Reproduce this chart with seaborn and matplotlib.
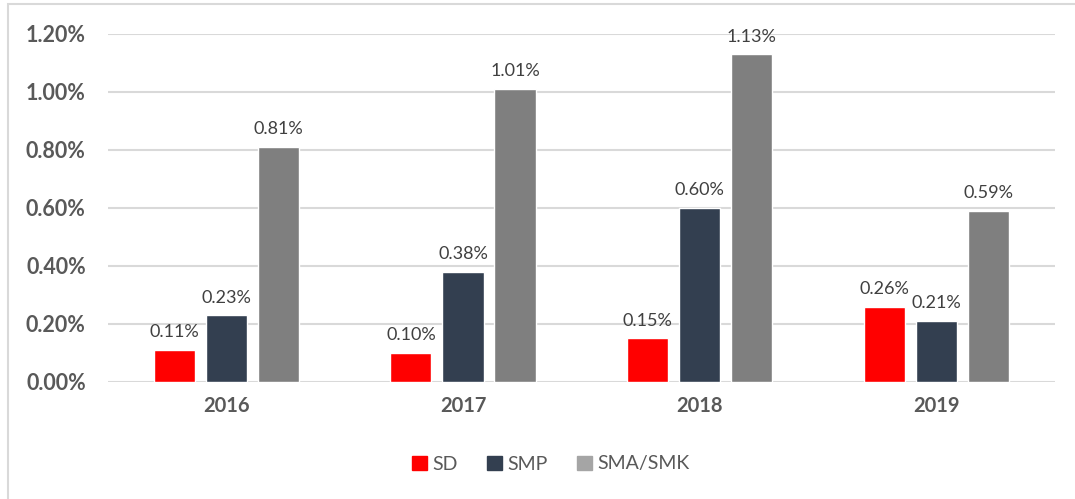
import matplotlib
matplotlib.use("Agg")
import matplotlib.pyplot as plt
import matplotlib.patches as mpatches
import seaborn as sns
import pandas as pd
from matplotlib.ticker import FuncFormatter

years = ["2016", "2017", "2018", "2019"]
series = ["SD", "SMP", "SMA/SMK"]
sd = [0.11, 0.10, 0.15, 0.26]
smp = [0.23, 0.38, 0.60, 0.21]
sma = [0.81, 1.01, 1.13, 0.59]

bar_colors = {"SD": "#FF0000", "SMP": "#333F50", "SMA/SMK": "#7F7F7F"}
legend_colors = {"SD": "#FF0000", "SMP": "#333F50", "SMA/SMK": "#A5A5A5"}

df = pd.DataFrame({
    "year": years * 3,
    "series": ["SD"] * 4 + ["SMP"] * 4 + ["SMA/SMK"] * 4,
    "value": sd + smp + sma,
})

sns.set_theme(style="white")
plt.rcParams["font.family"] = ["Lato", "DejaVu Sans"]

fig = plt.figure(figsize=(10.75, 4.99), dpi=100)
ax = fig.add_axes([0.1005, 0.2345, 0.8805, 0.6974])

sns.barplot(data=df, x="year", y="value", hue="series", hue_order=series,
            palette=bar_colors, width=0.66, gap=0.21, ax=ax, legend=False,
            saturation=1, errorbar=None)

for cont in ax.containers:
    ax.bar_label(cont, labels=[f"{v:.2f}%" for v in cont.datavalues],
                 padding=7, fontsize=13, color="#404040")

ax.set_ylim(0, 1.2)
ax.set_yticks([0, 0.2, 0.4, 0.6, 0.8, 1.0, 1.2])
ax.yaxis.set_major_formatter(FuncFormatter(lambda v, p: f"{v:.2f}%"))
ax.set_xlim(-0.5, 3.5)
ax.grid(axis="y", color="#D9D9D9", linewidth=1.5)
ax.set_axisbelow(True)
for s in ax.spines.values():
    s.set_visible(False)
ax.set_xlabel("")
ax.set_ylabel("")
ax.tick_params(axis="y", length=0, pad=16, labelsize=15.5, labelcolor="#595959")
ax.tick_params(axis="x", length=0, pad=10, labelsize=14.5, labelcolor="#595959")
for t in ax.get_xticklabels() + ax.get_yticklabels():
    t.set_fontweight("bold")

handles = [mpatches.Patch(color=legend_colors[s], label=s) for s in series]
leg = fig.legend(handles=handles, loc="center", bbox_to_anchor=(551 / 1075, 1 - 464 / 499),
                 ncol=3, frameon=False, fontsize=14, handlelength=0.75,
                 handleheight=0.75, handletextpad=0.3, columnspacing=1.5)
for t in leg.get_texts():
    t.set_color("#595959")

border = mpatches.Rectangle((8 / 1075, -0.01), 1.1, 1 - 4 / 499 + 0.01,
                            transform=fig.transFigure, fill=False,
                            edgecolor="#D9D9D9", linewidth=1.5)
fig.patches.append(border)

fig.savefig("out.png", dpi=100)
